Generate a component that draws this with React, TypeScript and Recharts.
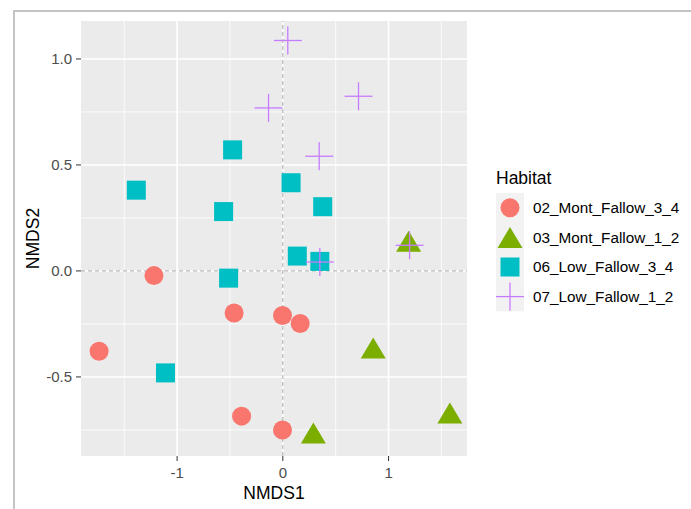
import React from "react";
import {
  CartesianGrid,
  ReferenceLine,
  Scatter,
  ScatterChart,
  XAxis,
  YAxis,
} from "recharts";

// Habitat groups, in ggplot's draw order.
const habitats = ["02_Mont_Fallow_3_4", "03_Mont_Fallow_1_2", "06_Low_Fallow_3_4", "07_Low_Fallow_1_2"];
const habitatColors = ["#F8766D", "#7CAE00", "#00BFC4", "#C77CFF"];

// NMDS scores.
const mont34X = [-1.219, -0.461, -0.003, 0.164, -1.738, -0.39, -0.003];
const mont34Y = [-0.022, -0.198, -0.21, -0.248, -0.379, -0.685, -0.75];
const mont12X = [1.19, 0.855, 1.58, 0.289];
const mont12Y = [0.14, -0.363, -0.67, -0.764];
const low34X = [-1.386, -0.475, -0.56, 0.078, 0.377, 0.137, 0.35, -0.513, -1.11];
const low34Y = [0.381, 0.571, 0.28, 0.416, 0.303, 0.07, 0.045, -0.034, -0.481];
const low12X = [0.047, -0.135, 0.716, 0.344, 1.199, 0.35];
const low12Y = [1.087, 0.769, 0.824, 0.541, 0.121, 0.042];

const xTicks = [-1, 0, 1];
const yTicks = [-0.5, 0, 0.5, 1];
const xMinor = [-1.5, -0.5, 0.5, 1.5];
const yMinor = [-0.75, -0.25, 0.25, 0.75];
const xDomain: [number, number] = [-1.909, 1.742];
const yDomain: [number, number] = [-0.873, 1.179];

const toRows = (xs: number[], ys: number[]) => xs.map((x, i) => ({ x, y: ys[i] }));
const groups = [
  toRows(mont34X, mont34Y),
  toRows(mont12X, mont12Y),
  toRows(low34X, low34Y),
  toRows(low12X, low12Y),
];

const FONT = '"Liberation Sans", Arial, sans-serif';

// ggplot shapes 16, 17, 15 and 3.
function Marker({ kind, cx, cy, color }: { kind: number; cx: number; cy: number; color: string }) {
  if (kind === 0) return <circle cx={cx} cy={cy} r={9.5} fill={color} />;
  if (kind === 1) {
    const w = 25, h = 21;
    return (
      <polygon
        points={`${cx},${cy - h / 2} ${cx + w / 2},${cy + h / 2} ${cx - w / 2},${cy + h / 2}`}
        fill={color}
      />
    );
  }
  if (kind === 2) return <rect x={cx - 9.5} y={cy - 9.5} width={19} height={19} fill={color} />;
  return (
    <g stroke={color} strokeWidth={1.3}>
      <line x1={cx - 14} y1={cy} x2={cx + 14} y2={cy} />
      <line x1={cx} y1={cy - 14} x2={cx} y2={cy + 14} />
    </g>
  );
}

function HabitatLegend() {
  const key = 29.6;
  return (
    <svg width={200} height={170} style={{ position: "absolute", left: 490, top: 160 }}>
      <text x={6} y={24} fontSize={17.5} fontFamily={FONT} fill="#000">
        Habitat
      </text>
      <rect x={6} y={33} width={28} height={key * habitats.length} fill="#F2F2F2" />
      {habitats.map((h, i) => {
        const cy = 33 + key * (i + 0.5);
        return (
          <g key={h}>
            <Marker kind={i} cx={20} cy={cy} color={habitatColors[i]} />
            <text x={43} y={cy} dy="0.35em" fontSize={15.3} fontFamily={FONT} fill="#000">
              {h}
            </text>
          </g>
        );
      })}
    </svg>
  );
}

export default function App() {
  return (
    <div style={{ position: "fixed", left: 0, top: 0, width: 691, height: 509, background: "#fff" }}>
      <div
        style={{
          position: "absolute",
          left: 13,
          top: 10,
          width: 678,
          height: 499,
          borderTop: "2px solid #c4c4c4",
          borderLeft: "2px solid #c4c4c4",
          boxSizing: "border-box",
        }}
      />
      <div style={{ position: "absolute", left: 0, top: 0 }}>
        <ScatterChart width={691} height={509} margin={{ top: 21, right: 224, bottom: 0, left: 0 }}>
          <CartesianGrid fill="#EBEBEB" horizontal={false} vertical={false} stroke="none" />
          {xMinor.map((v) => (
            <ReferenceLine key={`xm${v}`} x={v} stroke="#fff" strokeWidth={0.8} />
          ))}
          {yMinor.map((v) => (
            <ReferenceLine key={`ym${v}`} y={v} stroke="#fff" strokeWidth={0.8} />
          ))}
          {xTicks.map((v) => (
            <ReferenceLine key={`xM${v}`} x={v} stroke="#fff" strokeWidth={1.6} />
          ))}
          {yTicks.map((v) => (
            <ReferenceLine key={`yM${v}`} y={v} stroke="#fff" strokeWidth={1.6} />
          ))}
          <ReferenceLine x={0} stroke="#a8a8a8" strokeWidth={1} strokeDasharray="4 3" />
          <ReferenceLine y={0} stroke="#a8a8a8" strokeWidth={1} strokeDasharray="4 3" />
          <XAxis
            type="number"
            dataKey="x"
            domain={xDomain}
            allowDataOverflow
            ticks={xTicks}
            axisLine={false}
            tickLine={{ stroke: "#333333" }}
            tickSize={5}
            tickMargin={6}
            height={53}
            tick={{ fill: "#4D4D4D", fontSize: 15, fontFamily: FONT }}
            tickFormatter={(v: number) => String(v)}
            label={{
              content: ({ viewBox }: any) => (
                <text
                  x={viewBox.x + viewBox.width / 2}
                  y={viewBox.y + 43}
                  textAnchor="middle"
                  fontSize={17.5}
                  fontFamily={FONT}
                  fill="#000"
                >
                  NMDS1
                </text>
              ),
            }}
          />
          <YAxis
            type="number"
            dataKey="y"
            domain={yDomain}
            allowDataOverflow
            ticks={yTicks}
            axisLine={false}
            tickLine={{ stroke: "#333333" }}
            tickSize={5}
            tickMargin={4}
            width={81}
            tick={{ fill: "#4D4D4D", fontSize: 15, fontFamily: FONT }}
            tickFormatter={(v: number) => v.toFixed(1)}
            label={{
              content: ({ viewBox }: any) => {
                const cx = 39;
                const cy = viewBox.y + viewBox.height / 2;
                return (
                  <text
                    x={cx}
                    y={cy}
                    transform={`rotate(-90 ${cx} ${cy})`}
                    textAnchor="middle"
                    fontSize={17.5}
                    fontFamily={FONT}
                    fill="#000"
                  >
                    NMDS2
                  </text>
                );
              },
            }}
          />
          {groups.map((rows, i) => (
            <Scatter
              key={habitats[i]}
              name={habitats[i]}
              data={rows}
              isAnimationActive={false}
              shape={(p: any) => <Marker kind={i} cx={p.cx} cy={p.cy} color={habitatColors[i]} />}
            />
          ))}
        </ScatterChart>
      </div>
      <HabitatLegend />
    </div>
  );
}
